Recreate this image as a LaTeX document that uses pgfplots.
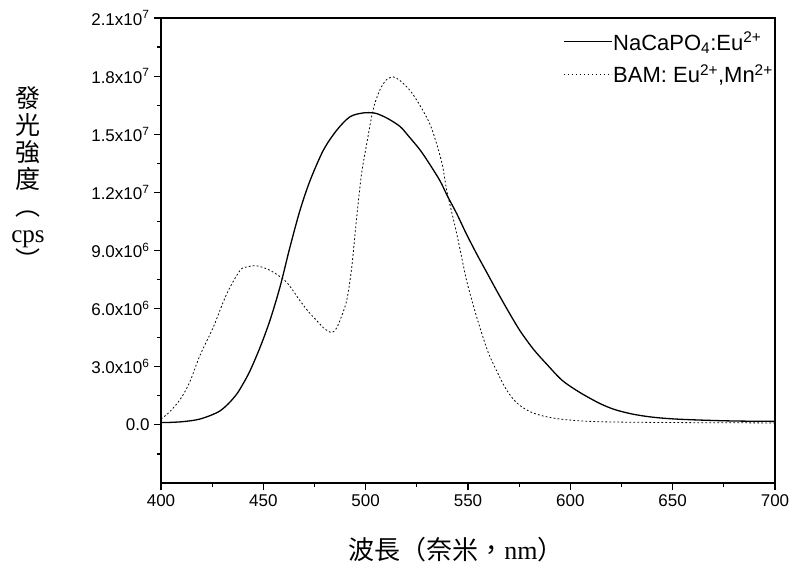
\documentclass[border=0pt]{standalone}
\usepackage{pgfplots}
\pgfplotsset{compat=1.18}
\usepackage{fontspec}
\setmainfont{Liberation Sans}
\newfontfamily\serif{Liberation Serif}
\newfontfamily\cjk{Noto Sans CJK TC}
\begin{document}
\begin{tikzpicture}
\useasboundingbox (-161pt,-90pt) rectangle (630pt,483pt);
\begin{axis}[
  at={(0pt,0pt)}, anchor=south west,
  scale only axis, width=614pt, height=465pt,
  xmin=400, xmax=700, ymin=-3, ymax=21,
  axis line style={line width=1.4pt},
  tick pos=left, tick align=outside,
  major tick length=7pt, minor tick length=4pt,
  every tick/.style={line width=1.2pt, black},
  xtick={400,450,...,700},
  xticklabels={400,450,500,550,600,650,700},
  minor xtick={425,475,...,675},
  ytick={0,3,...,21},
  yticklabels={0.0,3.0x10\textsuperscript{6},6.0x10\textsuperscript{6},9.0x10\textsuperscript{6},1.2x10\textsuperscript{7},1.5x10\textsuperscript{7},1.8x10\textsuperscript{7},2.1x10\textsuperscript{7}},
  minor ytick={-1.5,1.5,4.5,...,19.5},
  tick label style={font=\fontsize{17}{20}\selectfont},
  xticklabel style={yshift=-1pt},
  yticklabel style={xshift=-1pt},
  xlabel={\cjk 波長（奈米，{\serif nm}）},
  xlabel style={at={(rel axis cs:0.4805,-0.144)}, anchor=center, font=\fontsize{26}{30}\selectfont},
  ylabel={\cjk 發\\\cjk 光\\\cjk 強\\\cjk 度\\\cjk ︵\\{\serif cps}\\\cjk ︶},
  ylabel style={at={(rel axis cs:-0.2166,0.655)}, anchor=center, rotate=-90, align=center, font=\fontsize{25}{27}\selectfont},
  legend style={draw=none, fill=none, at={(rel axis cs:1.0,0.975)}, anchor=north east,
    font=\fontsize{22}{26}\selectfont, row sep=11pt, inner sep=1pt,
    nodes={inner sep=1pt}},
  legend cell align=left,
  legend image code/.code={\draw[#1] (0pt,0pt) -- (48pt,0pt);},
]
\addplot[black, line width=1.3pt, smooth] coordinates {
(400,0.12)(405,0.13)(410,0.16)(415,0.22)(419,0.3)(424,0.48)(428.8,0.72)(433,1.1)
(437,1.59)(440,2.1)(443.5,2.79)(448.4,4.0)(453.2,5.38)(458.1,7.1)(463,9.17)
(467.9,11.07)(472.8,12.6)(479.3,14.17)(485.8,15.2)(492.3,15.9)(498.8,16.1)(504,16.1)
(507,16.0)(511,15.8)(516.8,15.4)(521,14.9)(526.5,14.2)(531,13.5)(536.3,12.6)(540,11.8)
(544.5,10.9)(549,9.9)(554.2,8.83)(559,7.9)(564,6.93)(569.5,5.9)(575.4,4.86)(582,3.9)
(588.4,3.14)(596,2.3)(604.7,1.67)(614.5,1.1)(622,0.78)(630.7,0.55)(640,0.4)(650,0.31)
(663,0.25)(680,0.2)(700,0.18)
};
\addlegendentry{NaCaPO\textsubscript{4}:Eu\textsuperscript{2+}}
\addplot[black, line width=0.8pt, dash pattern=on 1.8pt off 2.2pt, smooth] coordinates {
(400,0.3)(404,0.65)(409.3,1.3)(414,2.2)(419.1,3.6)(425.5,5.03)(432.1,6.76)(438.6,7.97)
(442,8.15)(445.9,8.22)(450,8.12)(454.9,7.88)(461.4,7.36)(467.9,6.41)(472,5.85)
(476.1,5.38)(480,4.95)(483.4,4.77)(485.5,4.95)(487.4,5.38)(490.7,6.41)(493.2,8.14)
(495.6,10.7)(498,12.97)(500.5,14.5)(502.9,15.9)(504.5,16.6)(507,17.3)(510,17.8)
(513.5,17.96)(517,17.75)(521.6,17.27)(525,16.75)(528.1,16.2)(531.5,15.5)(534.7,14.5)
(537.5,13.4)(539.6,12.1)(542,11.0)(544.5,9.86)(547,8.6)(549.3,7.45)(552.5,6.2)
(555.8,5.03)(560,3.7)(564,2.79)(568,1.95)(572.1,1.33)(576,0.95)(581,0.65)(587,0.45)
(595,0.3)(606,0.2)(620,0.15)(650,0.12)(700,0.1)
};
\addlegendentry{BAM: Eu\textsuperscript{2+},Mn\textsuperscript{2+}}
\end{axis}
\end{tikzpicture}
\end{document}
